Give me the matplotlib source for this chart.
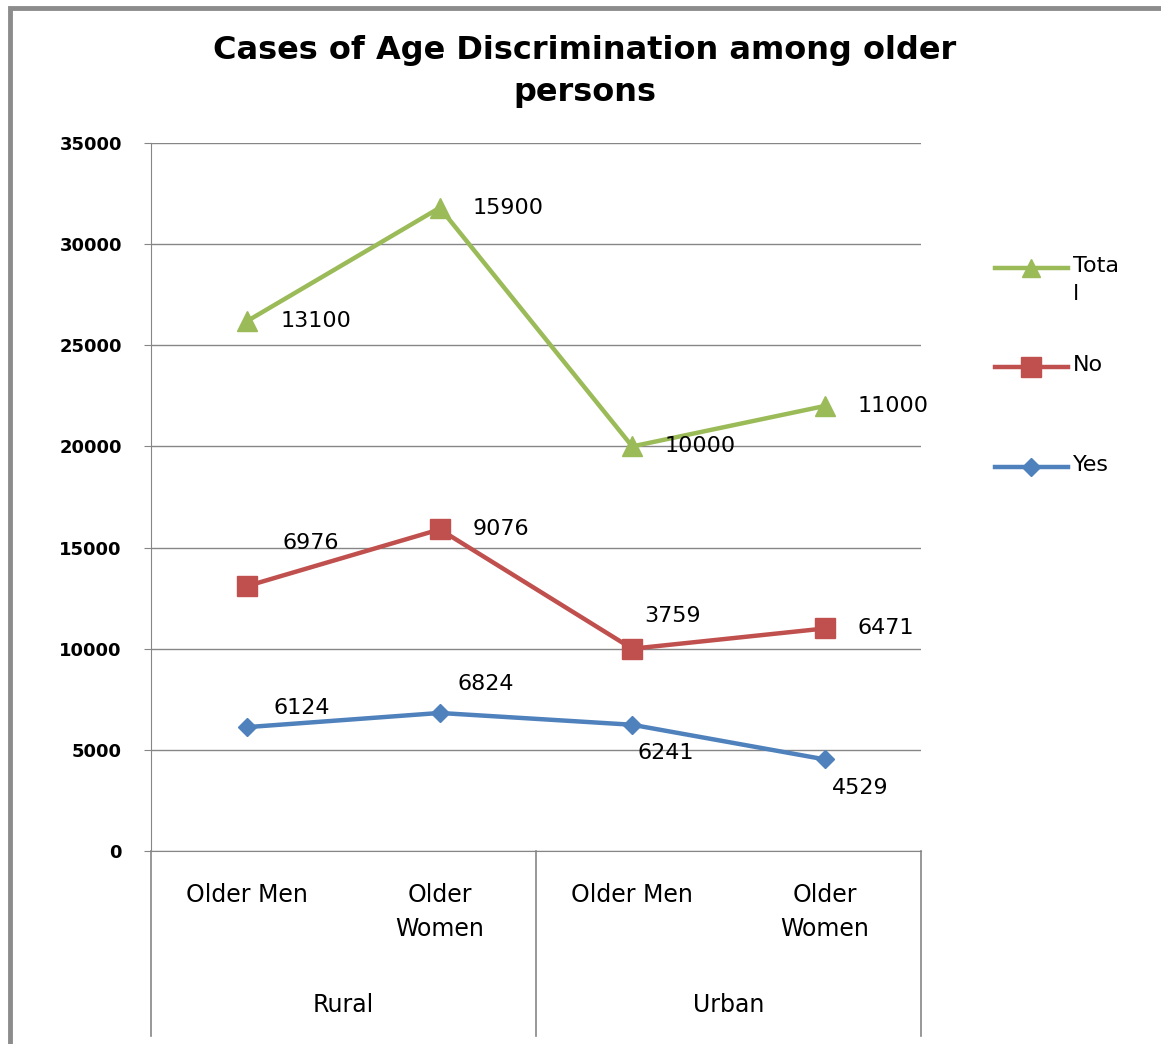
import numpy as np
import matplotlib
matplotlib.use('Agg')
import matplotlib.pyplot as plt
from matplotlib.lines import Line2D
from matplotlib.patches import Rectangle

# data (stacked line chart: each series is drawn on top of the previous one)
categories = ['Older Men', 'Older\nWomen', 'Older Men', 'Older\nWomen']
groups = ['Rural', 'Urban']
yes_vals = [6124, 6824, 6241, 4529]
no_vals = [6976, 9076, 3759, 6471]
total_vals = [13100, 15900, 10000, 11000]
y_ticks = [0, 5000, 10000, 15000, 20000, 25000, 30000, 35000]

BLUE = '#4F81BD'
RED = '#C0504D'
GREEN = '#9BBB59'
GRID = '#868686'

W, H = 1161, 1044
fig = plt.figure(figsize=(W / 100, H / 100), dpi=100)

# outer chart frame (only top/left edges visible in the crop)
fig.add_artist(Rectangle((10 / W, -0.1), 1.2, (H - 8) / H + 0.1, transform=fig.transFigure,
                         fill=False, edgecolor='#8C8C8C', linewidth=3.5))

left, right, top, bottom = 151, 921, 143, 851
ax = fig.add_axes([left / W, 1 - bottom / H, (right - left) / W, (bottom - top) / H])

x = np.arange(len(categories))
s_yes = np.array(yes_vals)
s_no = s_yes + np.array(no_vals)
s_total = s_no + np.array(total_vals)

ax.plot(x, s_yes, color=BLUE, lw=3.2, marker='D', ms=9, zorder=3)
ax.plot(x, s_no, color=RED, lw=3.2, marker='s', ms=15, zorder=3)
ax.plot(x, s_total, color=GREEN, lw=3.2, marker='^', ms=14, zorder=3)

# data labels (offsets in pixels)
lab_font = dict(fontsize=16, color='black', family='DejaVu Sans')
off_total = [(33, 0), (33, 0), (32, 0), (33, 0)]
off_no = [(35, 43), (33, 0), (12, 33), (33, 0)]
off_yes = [(26, 19), (18, 29), (5, -28), (7, -29)]
for i in range(len(x)):
    ax.annotate(str(total_vals[i]), (x[i], s_total[i]), xytext=off_total[i],
                textcoords='offset pixels', ha='left', va='center', **lab_font)
    ax.annotate(str(no_vals[i]), (x[i], s_no[i]), xytext=off_no[i],
                textcoords='offset pixels', ha='left', va='center', **lab_font)
    ax.annotate(str(yes_vals[i]), (x[i], s_yes[i]), xytext=off_yes[i],
                textcoords='offset pixels', ha='left', va='center', **lab_font)

ax.set_xlim(-0.5, len(categories) - 0.5)
ax.set_ylim(0, 35000)
ax.set_yticks(y_ticks)
ax.set_yticklabels([str(v) for v in y_ticks], fontsize=13, fontweight='bold')
ax.tick_params(axis='y', length=5, color=GRID, pad=16)
ax.set_xticks([])
ax.grid(axis='y', color=GRID, lw=1)
ax.set_axisbelow(True)
for side in ['top', 'right']:
    ax.spines[side].set_visible(False)
ax.spines['left'].set_color(GRID)
ax.spines['bottom'].set_color(GRID)

# multi-level category axis
span = bottom - top
ybot = -(1036 - bottom) / span
for xv in [-0.5, 1.5, 3.5]:
    ax.plot([xv, xv], [0, ybot], transform=ax.get_xaxis_transform(), color=GRID,
            lw=1.2, clip_on=False)
for i, c in enumerate(categories):
    ax.text(x[i], -(883 - bottom) / span, c, transform=ax.get_xaxis_transform(),
            ha='center', va='top', fontsize=17, linespacing=1.55)
for j, g in enumerate(groups):
    ax.text(2 * j + 0.5, -(993 - bottom) / span, g, transform=ax.get_xaxis_transform(),
            ha='center', va='top', fontsize=17)

fig.text(585 / W, 1 - 35 / H, 'Cases of Age Discrimination among older\npersons',
         ha='center', va='top', fontsize=23, fontweight='bold', linespacing=1.45)

# legend (manual, to mimic the wrapped "Tota / l" label)
legend_items = [('Tota\nl', GREEN, '^', 13, 268), ('No', RED, 's', 14, 367), ('Yes', BLUE, 'D', 9, 467)]
for name, col, mk, ms, yp in legend_items:
    fy = 1 - yp / H
    fig.add_artist(Line2D([995 / W, 1068 / W], [fy, fy], color=col, lw=3.2,
                          transform=fig.transFigure))
    fig.add_artist(Line2D([1031 / W], [fy], color=col, marker=mk, ms=ms, lw=0,
                          transform=fig.transFigure))
    fig.text(1073 / W, fy + 12 / H, name, ha='left', va='top', fontsize=16, linespacing=1.5)

fig.savefig('out.png', dpi=100)
